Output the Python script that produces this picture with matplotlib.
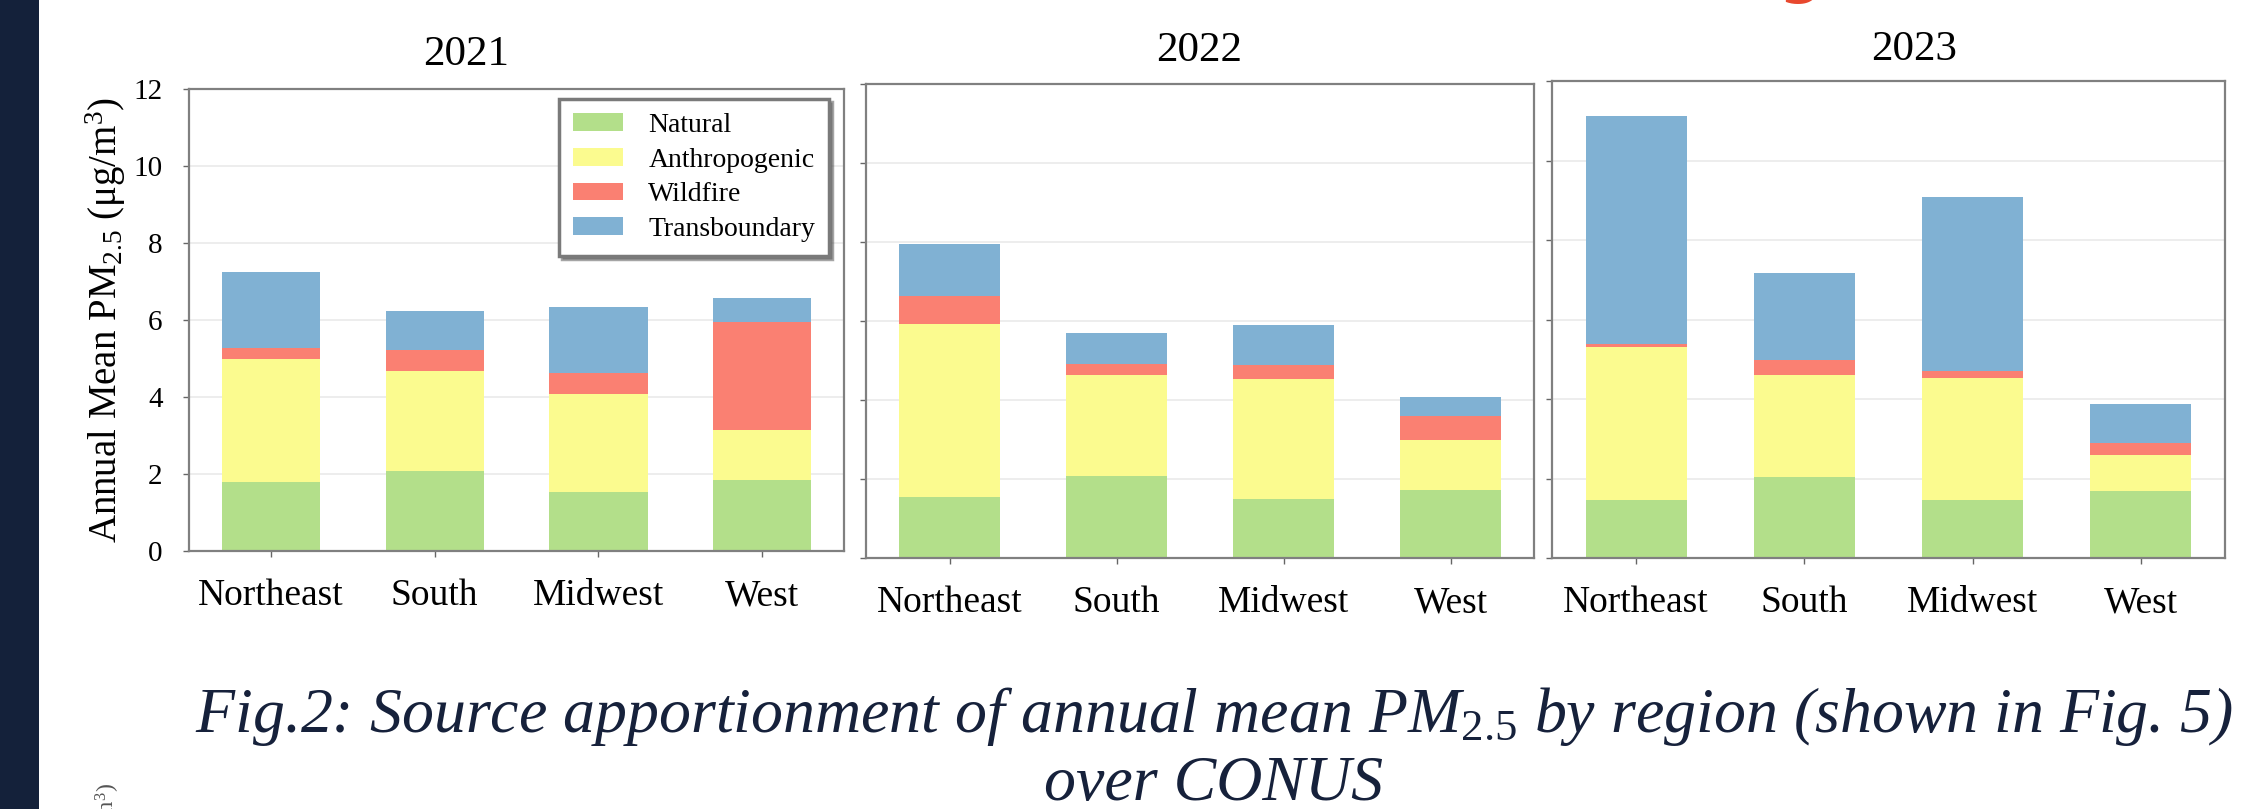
import numpy as np
import matplotlib
matplotlib.use('Agg')
import matplotlib.pyplot as plt
from matplotlib.patches import Rectangle

# valores (ug/m3), por region
regiones = ['Northeast', 'South', 'Midwest', 'West']
fuentes = ['Natural', 'Anthropogenic', 'Wildfire', 'Transboundary']
anios = ['2021', '2022', '2023']

natural_2021 = [1.78, 2.08, 1.54, 1.84]
anthro_2021 = [3.22, 2.60, 2.55, 1.29]
wildfire_2021 = [0.27, 0.53, 0.53, 2.82]
transb_2021 = [1.98, 1.03, 1.72, 0.61]

natural_2022 = [1.54, 2.07, 1.49, 1.72]
anthro_2022 = [4.39, 2.57, 3.04, 1.28]
wildfire_2022 = [0.70, 0.28, 0.35, 0.60]
transb_2022 = [1.33, 0.78, 1.01, 0.47]

natural_2023 = [1.47, 2.03, 1.45, 1.68]
anthro_2023 = [3.83, 2.57, 3.08, 0.91]
wildfire_2023 = [0.08, 0.39, 0.18, 0.31]
transb_2023 = [5.73, 2.19, 4.37, 0.97]

yticks = [0, 2, 4, 6, 8, 10, 12]

colores = ['#b3df8a', '#fbfb8f', '#fa8072', '#80b1d3']

plt.rcParams['font.family'] = ['Liberation Serif', 'DejaVu Serif']
plt.rcParams['mathtext.fontset'] = 'custom'
plt.rcParams['mathtext.rm'] = 'Liberation Serif'
plt.rcParams['mathtext.it'] = 'Liberation Serif:italic'

W, H = 2267, 809
fig = plt.figure(figsize=(W / 100, H / 100), dpi=100)
fig.patch.set_facecolor('white')


def caja(l, t, r, b):
    # rectangulo en pixeles -> fraccion de figura
    return [l / W, 1 - b / H, (r - l) / W, (b - t) / H]


# barra oscura de la izquierda
fig.patches.append(Rectangle((0, 0), 39 / W, 1, transform=fig.transFigure,
                             facecolor='#14213a', edgecolor='none', zorder=0))

posiciones = [caja(189, 89, 844, 551), caja(866, 84, 1534, 558), caja(1552, 81, 2225, 558)]
datos = [
    [natural_2021, anthro_2021, wildfire_2021, transb_2021],
    [natural_2022, anthro_2022, wildfire_2022, transb_2022],
    [natural_2023, anthro_2023, wildfire_2023, transb_2023],
]
titulos_x = [466, 1199, 1914]
titulos_y = [65, 61, 60]

ejes = []
for i, anio in enumerate(anios):
    ax = fig.add_axes(posiciones[i])
    x = np.arange(len(regiones))
    base = np.zeros(len(regiones))
    for fuente, valores, color in zip(fuentes, datos[i], colores):
        ax.bar(x, valores, width=0.6, bottom=base, color=color, label=fuente)
        base = base + np.array(valores)
    ax.set_xlim(-0.5, 3.5)
    ax.set_ylim(0, 12)
    ax.set_yticks(yticks)
    ax.set_xticks(x)
    ax.set_xticklabels(regiones, fontsize=27)
    ax.set_axisbelow(True)
    ax.yaxis.grid(True, color='#ececec', linewidth=1.3)
    for s in ax.spines.values():
        s.set_color('#808080')
        s.set_linewidth(1.6)
    ax.tick_params(axis='both', direction='out', length=4, width=1, color='#666666')
    ax.tick_params(axis='x', pad=16)
    ax.tick_params(axis='y', pad=15, labelsize=21)
    if i == 0:
        ax.set_ylabel('Annual Mean PM$_{2.5}$ (μg/m$^3$)', fontsize=28, labelpad=4)
        leg = ax.legend(loc='upper right', bbox_to_anchor=(829 / W, 1 - 99 / H),
                        bbox_transform=fig.transFigure, borderaxespad=0,
                        fontsize=20, fancybox=False, shadow=True,
                        edgecolor='#7a7a7a', framealpha=1, handlelength=1.8,
                        handleheight=0.6, handletextpad=0.9, labelspacing=0.35,
                        borderpad=0.5)
        leg.get_frame().set_linewidth(2.5)
    else:
        ax.set_yticklabels([])
    fig.text(titulos_x[i] / W, 1 - titulos_y[i] / H, anio, fontsize=31,
             ha='center', va='baseline')
    ejes.append(ax)

# pie de figura
color_pie = '#16213b'
fig.text(1214 / W, 1 - 732 / H,
         'Fig.2: Source apportionment of annual mean PM$_{\\mathit{2.5}}$ by region (shown in Fig. 5)',
         fontsize=46, style='italic', color=color_pie, ha='center', va='baseline')
fig.text(1214 / W, 1 - 800 / H, 'over CONUS', fontsize=46, style='italic',
         color=color_pie, ha='center', va='baseline')

# restos recortados del original
fig.text(1800 / W, 1 + 9 / H, 'g', fontsize=44, color='#e8482e', fontweight='bold',
         family='DejaVu Sans', ha='center', va='baseline')
fig.text(108 / W, 1 - 783 / H, '(μg/m$^3$)', fontsize=17, rotation=90,
         color='#555555', ha='center', va='top')

fig.savefig('out.png', dpi=100)
